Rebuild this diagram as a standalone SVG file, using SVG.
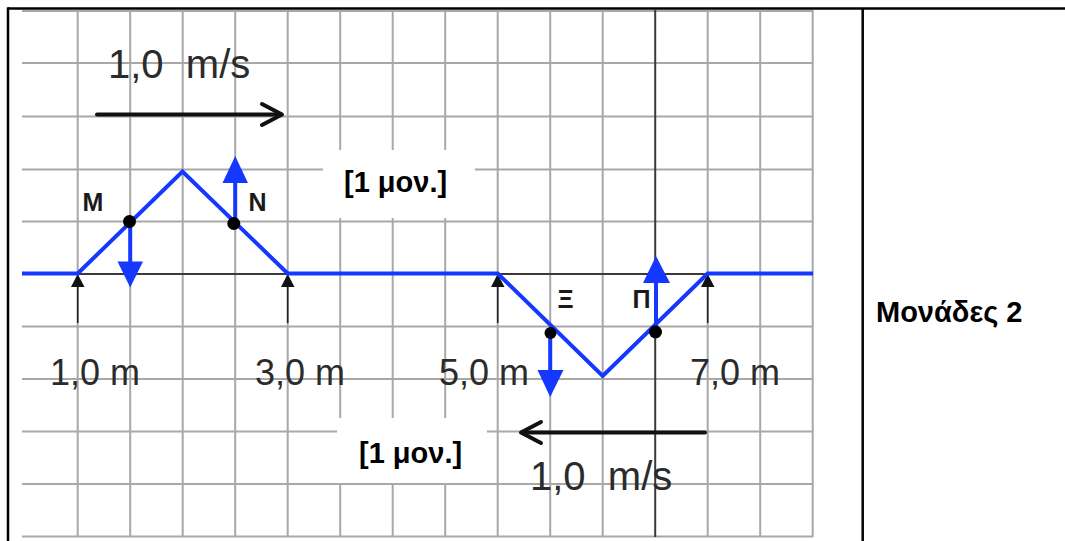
<svg xmlns="http://www.w3.org/2000/svg" width="1065" height="541" viewBox="0 0 1065 541">
  <style>
    .grid { stroke: #a8a8a8; stroke-width: 2; fill: none; }
    .dark { stroke: #3a3a3a; stroke-width: 2; fill: none; }
    .wave { stroke: #1438ff; stroke-width: 4; fill: none; stroke-linejoin: miter; }
    .vel { stroke: #1438ff; stroke-width: 4; fill: none; }
    .head { fill: #1438ff; }
    .tick { stroke: #222; stroke-width: 1.6; }
    .tickhead { fill: #111; }
    .dot { fill: #000; }
    .lbl { font-family: "Liberation Sans", Arial, sans-serif; font-size: 36px; fill: #2b2b2b; }
    .spd { font-family: "Liberation Sans", Arial, sans-serif; font-size: 40px; fill: #2b2b2b; }
    .pt { font-family: "Liberation Sans", Arial, sans-serif; font-size: 25px; font-weight: bold; fill: #1a1a1a; }
    .mark { font-family: "Liberation Sans", Arial, sans-serif; font-size: 29px; font-weight: bold; fill: #000; }
    .border { stroke: #000; stroke-width: 2.5; fill: none; }
    .black { stroke: #111; stroke-width: 4; fill: none; stroke-linecap: round; stroke-linejoin: round; }
  </style>

  <rect x="0" y="0" width="1065" height="541" fill="#fff"/>

  <g id="grid">
    <g class="grid">
      <line x1="77.7" y1="10" x2="77.7" y2="537"/>
      <line x1="130.2" y1="10" x2="130.2" y2="537"/>
      <line x1="182.7" y1="10" x2="182.7" y2="537"/>
      <line x1="235.2" y1="10" x2="235.2" y2="537"/>
      <line x1="287.7" y1="10" x2="287.7" y2="537"/>
      <line x1="340.2" y1="10" x2="340.2" y2="537"/>
      <line x1="392.7" y1="10" x2="392.7" y2="537"/>
      <line x1="445.2" y1="10" x2="445.2" y2="537"/>
      <line x1="497.7" y1="10" x2="497.7" y2="537"/>
      <line x1="550.2" y1="10" x2="550.2" y2="537"/>
      <line x1="602.7" y1="10" x2="602.7" y2="537"/>
      <line x1="707.7" y1="10" x2="707.7" y2="537"/>
      <line x1="760.2" y1="10" x2="760.2" y2="537"/>
      <line x1="812.7" y1="10" x2="812.7" y2="537"/>
      <line x1="22" y1="11" x2="813" y2="11"/>
      <line x1="22" y1="63" x2="813" y2="63"/>
      <line x1="22" y1="116.5" x2="813" y2="116.5"/>
      <line x1="22" y1="169.5" x2="813" y2="169.5"/>
      <line x1="22" y1="221.5" x2="813" y2="221.5"/>
      <line x1="22" y1="326.5" x2="813" y2="326.5"/>
      <line x1="22" y1="379" x2="813" y2="379"/>
      <line x1="22" y1="431.5" x2="813" y2="431.5"/>
      <line x1="22" y1="484" x2="813" y2="484"/>
      <line x1="22" y1="536.5" x2="813" y2="536.5"/>
    </g>
    <line class="dark" x1="655.2" y1="10" x2="655.2" y2="537"/>
    <line class="dark" x1="22" y1="274" x2="813" y2="274" stroke-width="2.5"/>
  </g>

  <g id="ticks">
    <line class="tick" x1="77.7" y1="280" x2="77.7" y2="323"/>
    <polygon class="tickhead" points="77.7,274 71,287 84.5,287"/>
    <line class="tick" x1="287.7" y1="280" x2="287.7" y2="323"/>
    <polygon class="tickhead" points="287.7,274 281,287 294.5,287"/>
    <line class="tick" x1="497.7" y1="280" x2="497.7" y2="323"/>
    <polygon class="tickhead" points="497.7,274 491,287 504.5,287"/>
    <line class="tick" x1="707.7" y1="280" x2="707.7" y2="323"/>
    <polygon class="tickhead" points="707.7,274 701,287 714.5,287"/>
  </g>

  <g id="wave">
    <polyline class="wave" points="22,273.5 77.7,273.5 182.5,171.5 287.7,273.5 497.7,273.5 602.7,376 707.7,273.5 813,273.5"/>
  </g>

  <g id="connectors">
    <line class="black" x1="97" y1="114.5" x2="281" y2="114.5"/>
    <polyline class="black" points="262,104 282,114.5 262,125"/>
    <line class="black" x1="705" y1="432.5" x2="522" y2="432.5"/>
    <polyline class="black" points="541,422 521,432.5 541,443"/>
    <line class="vel" x1="130.2" y1="222" x2="130.2" y2="264"/>
    <polygon class="head" points="117.5,261.5 143,261.5 130.2,287.5"/>
    <line class="vel" x1="235.2" y1="223" x2="235.2" y2="180"/>
    <polygon class="head" points="222.5,183 248,183 235.2,156"/>
    <line class="vel" x1="550.2" y1="333" x2="550.2" y2="373"/>
    <polygon class="head" points="537.5,370 563.5,370 550.2,397"/>
    <line class="vel" x1="656" y1="332" x2="656" y2="280"/>
    <polygon class="head" points="643,283 670,283 656,256"/>
  </g>

  <g id="point-M">
    <circle class="dot" cx="129.5" cy="221.5" r="6.5"/>
    <text class="pt" x="82.5" y="210.5">M</text>
  </g>
  <g id="point-N">
    <circle class="dot" cx="233.8" cy="223.5" r="6.5"/>
    <text class="pt" x="248.5" y="210.5">N</text>
  </g>
  <g id="point-Xi">
    <circle class="dot" cx="550.5" cy="333" r="6"/>
    <text class="pt" x="557.5" y="307.5">Ξ</text>
  </g>
  <g id="point-Pi">
    <circle class="dot" cx="655.5" cy="332" r="6.5"/>
    <text class="pt" x="632.5" y="307.5">Π</text>
  </g>

  <g id="labels">
    <text class="spd" x="108" y="77.5" xml:space="preserve">1,0  m/s</text>
    <text class="spd" x="530" y="490" xml:space="preserve">1,0  m/s</text>
    <text class="lbl" x="50" y="385">1,0 m</text>
    <text class="lbl" x="255" y="385">3,0 m</text>
    <text class="lbl" x="439" y="385">5,0 m</text>
    <text class="lbl" x="690" y="385">7,0 m</text>
  </g>

  <g id="mark-1">
    <rect x="323" y="150" width="152" height="68" fill="#fff"/>
    <text class="mark" x="344" y="192">[1 μον.]</text>
  </g>
  <g id="mark-2">
    <rect x="337" y="418" width="150" height="65" fill="#fff"/>
    <text class="mark" x="359" y="462.5">[1 μον.]</text>
  </g>

  <g id="table">
    <line class="border" x1="8" y1="8.5" x2="1065" y2="8.5"/>
    <line class="border" x1="8" y1="7.3" x2="8" y2="541"/>
    <line class="border" x1="862.7" y1="8.5" x2="862.7" y2="541"/>
  </g>

  <g id="score">
    <text class="mark" x="876" y="322" font-size="27">Μονάδες 2</text>
  </g>
</svg>
